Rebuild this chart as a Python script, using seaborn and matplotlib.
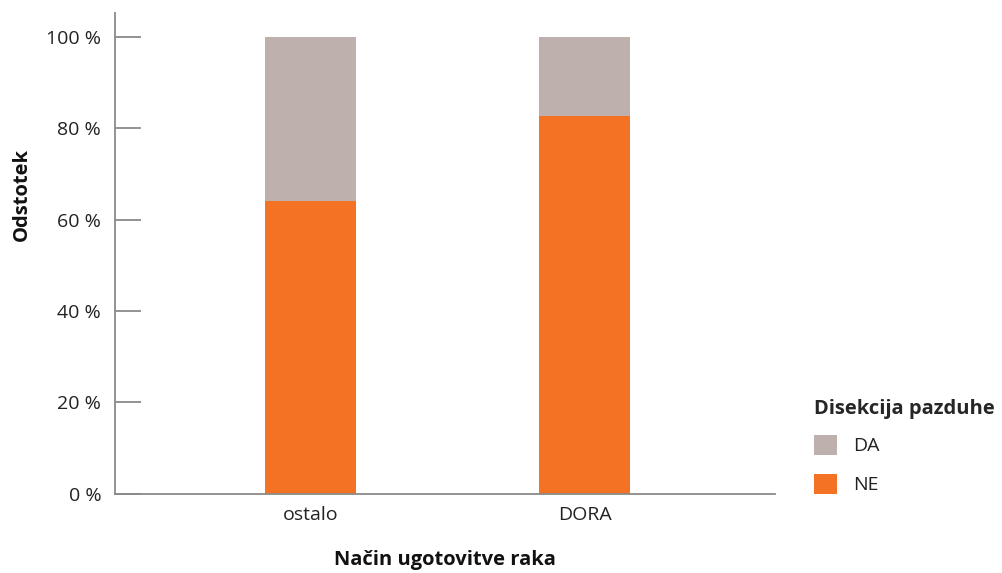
import matplotlib
matplotlib.use("Agg")
import matplotlib.pyplot as plt
from matplotlib.patches import Patch
import seaborn as sns
import pandas as pd

categories = ["ostalo", "DORA"]
ne_values = [64.0, 82.6]
da_values = [36.0, 17.4]
y_ticks = [0, 20, 40, 60, 80, 100]

ORANGE = "#F37224"
GREY = "#BEB0AC"
AXIS = "#8A8A8A"
TEXT = "#222222"

sns.set_theme(style="white")
plt.rcParams["font.family"] = ["Open Sans", "DejaVu Sans"]

df = pd.DataFrame({
    "kat": categories,
    "NE": ne_values,
    "DA": da_values,
})
df["skupaj"] = df["NE"] + df["DA"]

fig = plt.figure(figsize=(10.02, 5.73), dpi=100)
ax = fig.add_axes([0.1148, 0.1384, 0.6587, 0.8394])

# stacked bars: full height (DA on top) first, then NE from the baseline
sns.barplot(data=df, x="kat", y="skupaj", color=GREY, width=0.33,
            saturation=1, ax=ax, edgecolor="none", linewidth=0)
sns.barplot(data=df, x="kat", y="NE", color=ORANGE, width=0.33,
            saturation=1, ax=ax, edgecolor="none", linewidth=0)

ax.set_xlim(-0.713, 1.695)
ax.set_ylim(0, 105.3)
ax.set_yticks(y_ticks)
ax.set_yticklabels([f"{t} %" for t in y_ticks])

for side in ("top", "right"):
    ax.spines[side].set_visible(False)
for side in ("left", "bottom"):
    ax.spines[side].set_color(AXIS)
    ax.spines[side].set_linewidth(1.3)

ax.tick_params(axis="y", direction="in", length=18.7, width=1.3, color=AXIS,
               pad=10, labelsize=14, labelcolor=TEXT, left=True)
ax.tick_params(axis="x", length=0, pad=9, labelsize=14, labelcolor=TEXT)

ax.set_xlabel("")
ax.set_ylabel("")
fig.text(0.444, 0.022, "Način ugotovitve raka", ha="center", va="center",
         fontsize=14.5, fontweight="bold", color="#111111")
fig.text(0.022, 0.661, "Odstotek", ha="center", va="center", rotation=90,
         fontsize=14.5, fontweight="bold", color="#111111")

handles = [Patch(facecolor=GREY, edgecolor="none", label="DA"),
           Patch(facecolor=ORANGE, edgecolor="none", label="NE")]
leg = fig.legend(handles=handles, title="Disekcija pazduhe",
                 loc="upper left", bbox_to_anchor=(0.812, 0.303),
                 frameon=False, fontsize=14, title_fontsize=14.5,
                 handlelength=1.2, handleheight=1.2, handletextpad=0.85,
                 labelspacing=0.95, borderaxespad=0, borderpad=0)
leg.get_title().set_fontweight("bold")
leg._legend_box.align = "left"
leg._legend_box.sep = 11
for t in leg.get_texts():
    t.set_color(TEXT)

fig.savefig("out.png", dpi=100)
